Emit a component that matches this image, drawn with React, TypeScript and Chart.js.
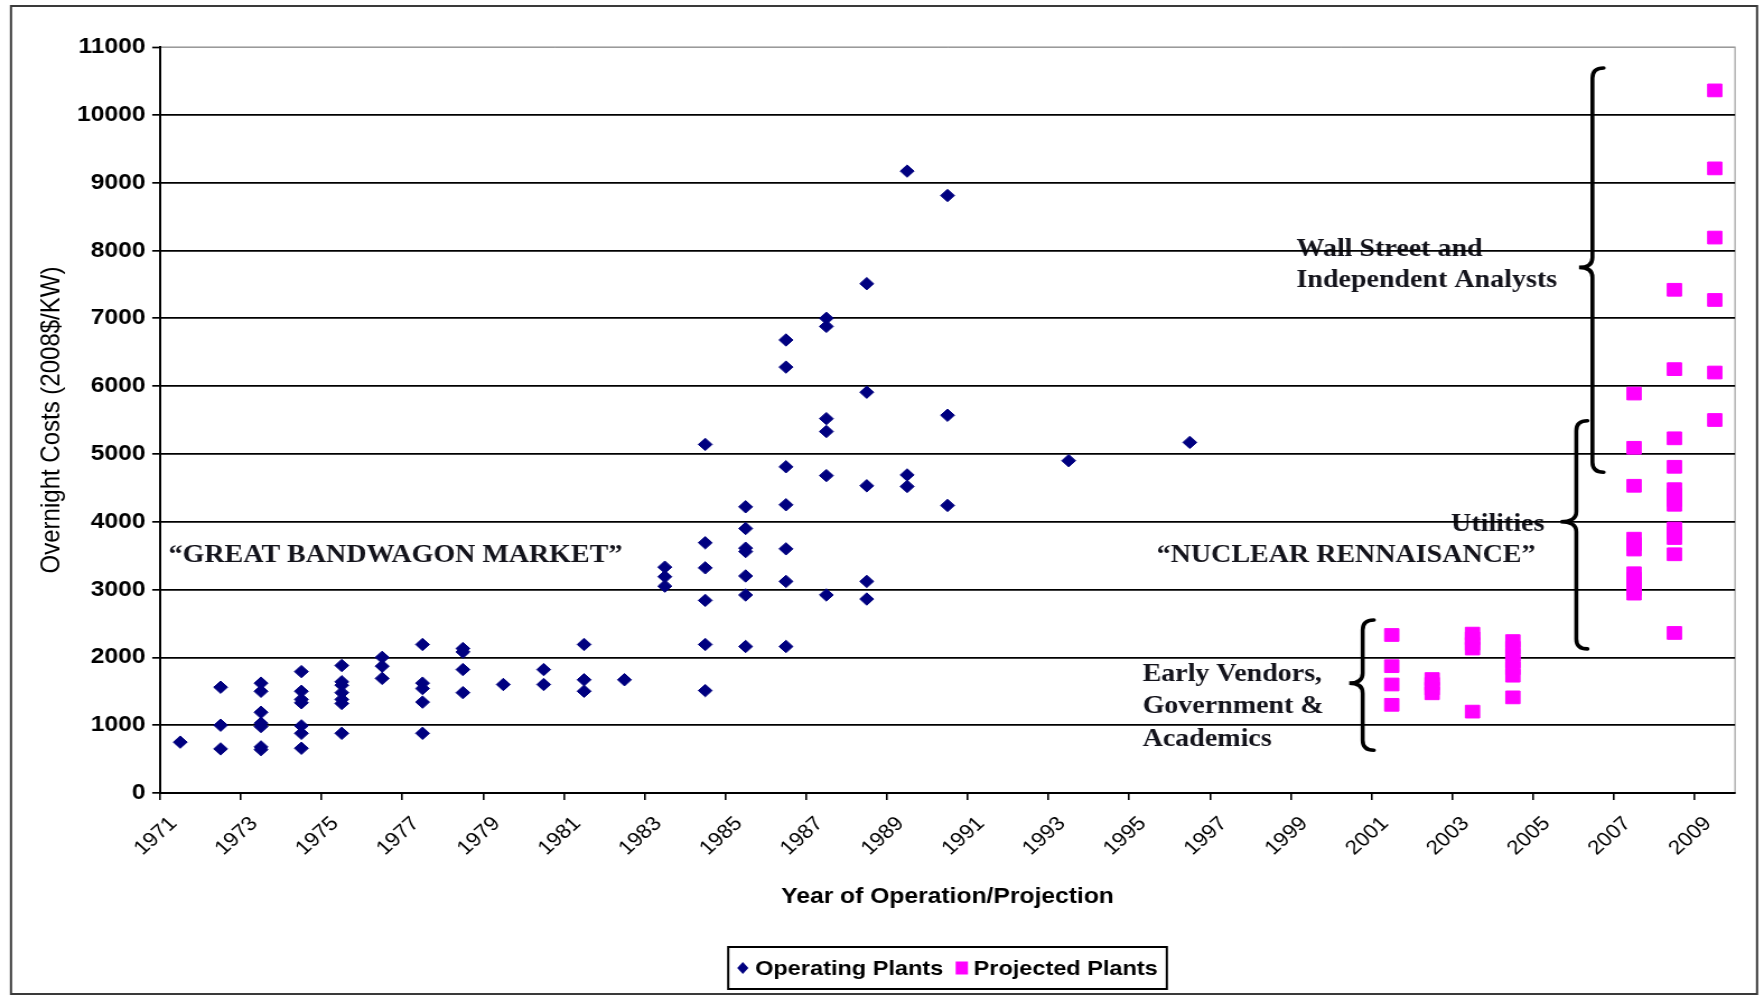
import React, { useEffect, useRef } from 'react';
import { Chart, registerables } from 'chart.js';

Chart.register(...registerables);

// ---------- data ----------
const categories = [
  '1971', '1972', '1973', '1974', '1975', '1976', '1977', '1978', '1979', '1980',
  '1981', '1982', '1983', '1984', '1985', '1986', '1987', '1988', '1989', '1990',
  '1991', '1992', '1993', '1994', '1995', '1996', '1997', '1998', '1999', '2000',
  '2001', '2002', '2003', '2004', '2005', '2006', '2007', '2008', '2009',
];

const tickLabels = [
  '1971', '1973', '1975', '1977', '1979', '1981', '1983', '1985', '1987', '1989',
  '1991', '1993', '1995', '1997', '1999', '2001', '2003', '2005', '2007', '2009',
];

const yTickValues = [0, 1000, 2000, 3000, 4000, 5000, 6000, 7000, 8000, 9000, 10000, 11000];

const operatingYears = [
  '1971', '1972', '1973', '1974', '1975', '1976', '1977', '1978', '1979', '1980',
  '1981', '1982', '1983', '1984', '1985', '1986', '1987', '1988', '1989', '1990',
  '1993', '1996',
];
const operatingCosts = [
  [750],
  [1560, 1000, 650],
  [1620, 1500, 1190, 1030, 980, 680, 640],
  [1790, 1500, 1380, 1330, 990, 880, 660],
  [1880, 1640, 1590, 1480, 1380, 1320, 880],
  [2000, 1870, 1690],
  [2190, 1620, 1540, 1340, 880],
  [2130, 2080, 1820, 1480],
  [1600],
  [1820, 1600],
  [2190, 1670, 1500],
  [1670],
  [3330, 3190, 3050],
  [5140, 3690, 3320, 2840, 2190, 1510],
  [4220, 3900, 3610, 3560, 3200, 2920, 2160],
  [6680, 6280, 4810, 4250, 3600, 3120, 2160],
  [7000, 6880, 5520, 5330, 4680, 2920],
  [7510, 5910, 4530, 3120, 2860],
  [9170, 4690, 4520],
  [8810, 5570, 4240],
  [4900],
  [5170],
];

const projectedYears = ['2001', '2002', '2003', '2004', '2007', '2008', '2009'];
const projectedCosts = [
  [2330, 1870, 1600, 1300],
  [1680, 1610, 1540, 1470],
  [2350, 2280, 2200, 2130, 1200],
  [2240, 2140, 2040, 1940, 1840, 1730, 1410],
  [5890, 5090, 4530, 3750, 3670, 3590, 3240, 3160, 3090, 3010, 2940],
  [7420, 6250, 5230, 4810, 4480, 4400, 4320, 4250, 3900, 3830, 3760, 3520, 2360],
  [10360, 9210, 8190, 7270, 6200, 5500],
];

const seriesNames = ['Operating Plants', 'Projected Plants'];
const yAxisTitle = 'Overnight Costs (2008$/KW)';
const xAxisTitle = 'Year of Operation/Projection';

// ---------- layout / style ----------
const STRETCH = 1.12;
const CW = 1572;
const CH = 998;
const NAVY = '#000080';
const MAGENTA = '#FF00FF';
const SANS = '"Liberation Sans", Arial, sans-serif';
const SERIF = '"Liberation Serif", "Times New Roman", serif';

function toPoints(years: string[], costs: number[][]) {
  const out: { x: string; y: number }[] = [];
  years.forEach((yr, i) => costs[i].forEach((v) => out.push({ x: yr, y: v })));
  return out;
}

function drawBrace(ctx: CanvasRenderingContext2D, x: number, yTop: number, yMid: number, yBot: number, depth: number, curl: number) {
  ctx.beginPath();
  ctx.moveTo(x + curl, yTop);
  ctx.quadraticCurveTo(x, yTop, x, yTop + curl);
  ctx.lineTo(x, yMid - curl);
  ctx.quadraticCurveTo(x, yMid, x - depth, yMid);
  ctx.quadraticCurveTo(x, yMid, x, yMid + curl);
  ctx.lineTo(x, yBot - curl);
  ctx.quadraticCurveTo(x, yBot, x + curl, yBot);
  ctx.stroke();
}

const backgroundPlugin = {
  id: 'backgroundAnnotations',
  beforeDraw(chart: any) {
    const { ctx, chartArea, scales } = chart;
    const xs = scales.x;
    const ys = scales.y;
    const px = (yr: number) => xs.getPixelForValue(yr - 1971);
    const py = (v: number) => ys.getPixelForValue(v);
    ctx.save();
    // outer frame
    ctx.strokeStyle = '#3a3a3a';
    ctx.lineWidth = 2;
    ctx.strokeRect(9.8, 6, 1559, 988);
    // plot area frame
    ctx.strokeStyle = '#8c8c8c';
    ctx.lineWidth = 1;
    ctx.strokeRect(chartArea.left, chartArea.top, chartArea.right - chartArea.left, chartArea.bottom - chartArea.top);

    // annotation texts (drawn under the gridlines)
    ctx.fillStyle = '#14141c';
    ctx.font = `bold 25px ${SERIF}`;
    ctx.textBaseline = 'middle';
    ctx.textAlign = 'center';
    ctx.fillText('\u201CGREAT BANDWAGON MARKET\u201D', px(1976.33), py(3500));
    ctx.fillText('\u201CNUCLEAR RENNAISANCE\u201D', px(1999.87), py(3500));
    ctx.textAlign = 'right';
    ctx.fillText('Utilities', px(2004.78), py(3960));
    ctx.textAlign = 'left';
    ctx.fillText('Wall Street and', px(1998.64), py(8010));
    ctx.fillText('Independent Analysts', px(1998.64), py(7560));
    const ev = py(1750);
    ctx.fillText('Early Vendors,', px(1994.83), ev);
    ctx.fillText('Government &', px(1994.83), ev + 32);
    ctx.fillText('Academics', px(1994.83), ev + 65);

    // braces
    ctx.strokeStyle = '#000';
    ctx.lineWidth = 3.6;
    ctx.lineCap = 'round';
    drawBrace(ctx, px(2005.97), py(10690), py(7750), py(4730), 12, 10);
    drawBrace(ctx, px(2005.57), py(5490), py(4000), py(2125), 14, 10);
    drawBrace(ctx, px(2000.28), py(2550), py(1620), py(630), 12, 10);
    ctx.restore();
  },
};

const legendPlugin = {
  id: 'boxedLegend',
  afterDraw(chart: any) {
    const { ctx, chartArea } = chart;
    ctx.save();
    ctx.font = `bold 21px ${SANS}`;
    const w1 = ctx.measureText(seriesNames[0]).width;
    const w2 = ctx.measureText(seriesNames[1]).width;
    const padL = 7;
    const mk = 12;
    const gap = 5;
    const itemGap = 10;
    const padR = 8;
    const total = padL + mk + gap + w1 + itemGap + mk + gap + w2 + padR;
    const cx = (chartArea.left + chartArea.right) / 2;
    const left = cx - total / 2;
    const top = 947;
    const h = 42;
    ctx.strokeStyle = '#000';
    ctx.lineWidth = 2;
    ctx.strokeRect(left, top, total, h);
    const cy = top + h / 2;
    let x = left + padL;
    // diamond marker
    ctx.fillStyle = NAVY;
    ctx.beginPath();
    ctx.moveTo(x + mk / 2, cy - 6);
    ctx.lineTo(x + mk / 2 + 5, cy);
    ctx.lineTo(x + mk / 2, cy + 6);
    ctx.lineTo(x + mk / 2 - 5, cy);
    ctx.closePath();
    ctx.fill();
    x += mk + gap;
    ctx.fillStyle = '#000';
    ctx.textBaseline = 'middle';
    ctx.textAlign = 'left';
    ctx.fillText(seriesNames[0], x, cy + 1);
    x += w1 + itemGap;
    // square marker
    ctx.fillStyle = MAGENTA;
    ctx.fillRect(x + 1, cy - 6.5, 11, 13);
    x += mk + gap;
    ctx.fillStyle = '#000';
    ctx.fillText(seriesNames[1], x, cy + 1);
    ctx.restore();
  },
};

export default function App() {
  const ref = useRef<HTMLCanvasElement | null>(null);

  useEffect(() => {
    document.body.style.margin = '0';
    document.body.style.overflow = 'hidden';
    const canvas = ref.current;
    if (!canvas) return;
    const chart = new Chart(canvas, {
      type: 'scatter',
      data: {
        labels: categories,
        datasets: [
          {
            label: seriesNames[0],
            data: toPoints(operatingYears, operatingCosts) as any,
            pointStyle: 'rectRot',
            pointRadius: 6.2,
            pointHoverRadius: 6.2,
            backgroundColor: NAVY,
            borderColor: NAVY,
            borderWidth: 1,
          },
          {
            label: seriesNames[1],
            data: toPoints(projectedYears, projectedCosts) as any,
            pointStyle: 'rect',
            pointRadius: 9,
            pointHoverRadius: 9,
            backgroundColor: MAGENTA,
            borderColor: MAGENTA,
            borderWidth: 1,
          },
        ],
      },
      options: {
        animation: false,
        responsive: false,
        maintainAspectRatio: false,
        layout: { padding: { left: 20, right: 22.9, top: 47, bottom: 75 } },
        plugins: {
          legend: { display: false },
          tooltip: { enabled: false },
        },
        scales: {
          x: {
            type: 'category',
            labels: categories,
            offset: true,
            grid: {
              display: true,
              offset: true,
              drawOnChartArea: false,
              drawTicks: true,
              tickLength: 7,
              color: (c: any) => (c.index % 2 === 0 ? '#000' : 'rgba(0,0,0,0)'),
              tickColor: (c: any) => (c.index % 2 === 0 ? '#000' : 'rgba(0,0,0,0)'),
              lineWidth: 1.6,
            },
            border: { display: true, color: '#000', width: 2 },
            ticks: {
              autoSkip: false,
              minRotation: 45,
              maxRotation: 45,
              padding: 12,
              labelOffset: -6,
              color: '#000',
              font: { family: SANS, size: 20 },
              callback: (_v: any, i: number) => (tickLabels.includes(categories[i]) ? categories[i] : ''),
            },
            title: {
              display: true,
              text: xAxisTitle,
              color: '#000',
              font: { family: SANS, size: 22, weight: 'bold' },
              padding: { top: 0, bottom: 13 },
            },
            afterFit: (s: any) => {
              s.height = 130;
            },
          } as any,
          y: {
            min: 0,
            max: 11000,
            afterBuildTicks: (s: any) => {
              s.ticks = yTickValues.map((v) => ({ value: v }));
            },
            grid: {
              color: (c: any) => (c.tick && c.tick.value === 11000 ? '#9a9a9a' : '#000'),
              lineWidth: (c: any) => (c.tick && c.tick.value === 11000 ? 1 : 1.7),
              tickColor: '#000',
              tickLength: 7,
              tickWidth: 1.7,
            },
            border: { display: true, color: '#000', width: 2 },
            ticks: {
              padding: 6,
              color: '#000',
              font: { family: SANS, size: 22, weight: 'bold' },
              callback: (v: any) => String(v),
            },
            title: {
              display: true,
              text: yAxisTitle,
              color: '#000',
              font: { family: SANS, size: 24 },
              padding: { top: 12, bottom: 0 },
            },
            afterFit: (s: any) => {
              s.width = 142.9 - 20;
            },
          } as any,
        },
      },
      plugins: [backgroundPlugin, legendPlugin],
    });
    return () => chart.destroy();
  }, []);

  return (
    <div style={{ width: CW, height: CH, transform: `scaleX(${STRETCH})`, transformOrigin: '0 0' }}>
      <canvas ref={ref} width={CW} height={CH} style={{ display: 'block', width: CW, height: CH }} />
    </div>
  );
}
